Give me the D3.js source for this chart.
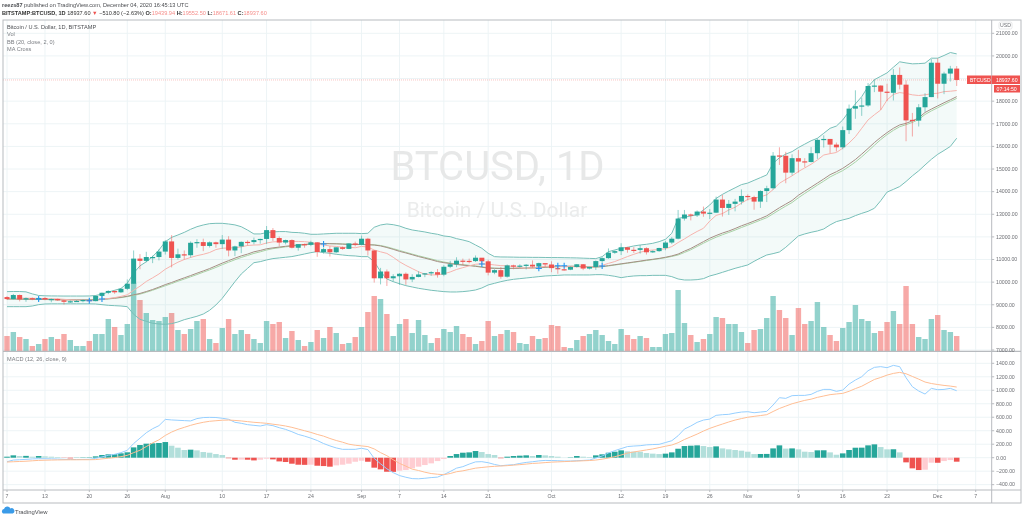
<!DOCTYPE html>
<html><head><meta charset="utf-8">
<script src="https://d3js.org/d3.v7.min.js"></script>
<style>html,body{margin:0;padding:0;background:#fff;overflow:hidden}svg{display:block;filter:blur(0.3px)}text{font-family:"Liberation Sans",Arial,sans-serif}</style>
</head><body><svg id="c" width="1024" height="520"></svg>
<script>
const openP=[9340,9250,9430,9235,9290,9240,9300,9240,9255,9195,
9130,9155,9170,9210,9160,9390,9530,9610,9550,9705,
9930,11040,10940,11110,11110,11350,11800,11070,11230,11190,
11740,11770,11600,11760,11680,11880,11400,11580,11780,11770,
11860,11910,12300,11950,11750,11860,11520,11680,11650,11760,
11330,11460,11320,11540,11470,11710,11650,11920,11400,10170,
10470,10170,10260,10370,10120,10230,10340,10390,10440,10330,
10680,10790,10950,10940,10930,11080,10920,10420,10530,10240,
10740,10690,10730,10770,10690,10840,10780,10620,10570,10550,
10670,10790,10600,10670,10930,11060,11300,11370,11540,11430,
11425,11500,11320,11370,11510,11750,11920,12810,12990,12950,
13120,13030,13070,13650,13280,13460,13560,13810,13760,13560,
14030,14150,15600,15585,14840,15480,15340,15310,15700,16290,
16330,16080,15960,16720,17670,17780,17810,18670,18690,18420,
18370,19160,18730,17175,17140,17730,18180,19700,18770,19220,
19439.94];
const closeP=[9250,9430,9235,9290,9240,9300,9240,9255,9195,9130,
9155,9170,9210,9160,9390,9530,9610,9550,9705,9930,
11040,10940,11110,11110,11350,11800,11070,11230,11190,11740,
11770,11600,11760,11680,11880,11400,11580,11780,11770,11860,
11910,12300,11950,11750,11860,11520,11680,11650,11760,11330,
11460,11320,11540,11470,11710,11650,11920,11400,10170,10470,
10170,10260,10370,10120,10230,10340,10390,10440,10330,10680,
10790,10950,10940,10930,11080,10920,10420,10530,10240,10740,
10690,10730,10770,10690,10840,10780,10620,10570,10550,10670,
10790,10600,10670,10930,11060,11300,11370,11540,11430,11425,
11500,11320,11370,11510,11750,11920,12810,12990,12950,13120,
13030,13070,13650,13280,13460,13560,13810,13760,13560,14030,
14150,15590,15585,14840,15480,15330,15310,15700,16290,16330,
16080,15960,16720,17670,17780,17810,18670,18690,18420,18370,
19160,18730,17150,17140,17730,18180,19700,18770,19220,19440,
18937.6];
const highP=[9380,9480,9450,9320,9320,9340,9340,9280,9275,9210,
9190,9210,9225,9215,9410,9540,9640,9630,9730,10120,
11400,11240,11340,11170,11450,11860,12080,11480,11400,11800,
11900,11920,11800,11790,12080,12030,11610,11800,11850,11970,
11920,12480,12390,12020,11880,11890,11680,11710,11830,11770,
11540,11590,11540,11580,11720,11790,12060,11960,11420,10630,
10560,10350,10400,10430,10350,10480,10400,10480,10580,10750,
10940,11100,11040,11040,11180,11050,10990,10570,10670,10780,
10770,10790,10800,10960,10860,10800,10920,10670,10600,10690,
10800,10800,10680,10960,11100,11490,11400,11720,11560,11550,
11640,11540,11410,11520,11820,11990,13190,13190,13030,13170,
13340,13230,13780,13860,13630,13680,14100,13880,13820,14060,
14260,15750,15960,15760,15650,15840,15480,15970,16350,16490,
16330,16170,16880,17850,18480,18150,18800,18960,18700,18770,
19420,19490,18920,17480,17870,18350,19860,19890,19300,19560,
19552.5];
const lowP=[9210,9230,9150,9130,9200,9160,9200,9110,9170,9010,
9080,9135,9110,9120,9150,9270,9470,9480,9520,9650,
9930,10570,10880,10840,10960,11220,10650,11000,11000,11090,
11520,11370,11530,11520,11470,11140,11150,11280,11620,11670,
11700,11690,11820,11580,11670,11490,11390,11520,11590,11120,
11260,11130,11280,11430,11460,11580,11630,11180,9980,9900,
9830,10030,9880,9880,10000,10210,10220,10280,10200,10260,
10620,10660,10750,10830,10890,10770,10300,10350,10150,10200,
10570,10640,10560,10640,10650,10670,10440,10370,10510,10530,
10640,10530,10560,10540,10830,11030,11250,11200,11300,11290,
11260,11220,11290,11340,11410,11680,11890,12720,12730,12880,
12890,12790,13060,12900,12970,13130,13430,13610,13200,13280,
13540,14090,15180,14370,14720,14840,15080,15290,15450,15950,
15700,15770,15870,16550,17220,17350,17750,18400,17620,18000,
18030,18520,16230,16440,16880,17530,18180,18120,18310,18870,
18671.61];
const volume=[15,19,14,12,5,7,12,14,12,17,
11,5,5,10,17,17,32,24,16,27,
68,51,38,31,30,34,38,21,17,22,
30,32,12,8,23,32,17,21,17,12,
8,30,27,29,13,20,11,5,9,21,
13,24,18,7,8,14,24,39,55,52,
37,15,27,32,18,31,16,8,13,22,
19,25,17,14,7,10,30,15,17,21,
19,8,7,15,12,13,26,25,4,3,
11,15,17,21,16,10,7,22,16,12,
15,13,4,4,17,18,61,28,16,9,
12,17,34,33,27,27,19,8,21,22,
33,55,41,33,16,43,27,30,49,24,
16,10,23,29,46,32,30,18,20,29,
40,27,65,27,14,12,32,36,21,19,
15];
const bbUpper=[9580,9585,9585,9570,9480,9410,9395,9390,9388,9385,
9385,9385,9385,9388,9410,9470,9560,9640,9720,9948,
10400,10720,10900,11130,11420,11790,11980,12085,12200,12336,
12450,12527,12585,12600,12600,12570,12530,12450,12300,12130,
12130,12190,12220,12235,12235,12200,12190,12160,12115,12115,
12130,12145,12160,12160,12160,12160,12145,12160,12425,12527,
12570,12540,12480,12380,12306,12262,12218,12160,12115,12040,
12010,11923,11864,11790,11643,11496,11275,11127,11112,11110,
11105,11100,11100,11095,11095,11090,11085,11085,11080,11075,
11070,11060,11050,11040,11127,11348,11422,11496,11540,11600,
11643,11673,11717,11790,11894,12160,12820,12870,12925,12985,
13190,13410,13700,13880,14030,14170,14310,14380,14500,14620,
14740,15250,15500,15660,15770,15950,16100,16250,16360,16580,
16800,16900,17170,17550,17880,18200,18640,18950,19100,19250,
19500,19740,19690,19650,19660,19680,19900,19900,20020,20150,
20090];
const bbLower=[8916,8916,8916,8916,8945,9005,9034,9040,9040,9040,
9040,9040,9040,9040,9034,9005,8975,8960,8945,8916,
8577,8356,8268,8180,8150,8135,8165,8238,8340,8415,
8490,8590,8755,8990,9285,9653,10020,10360,10610,10860,
10906,10980,11040,11070,11100,11130,11185,11245,11304,11350,
11304,11275,11230,11200,11170,11157,11127,11127,10906,10464,
10140,10020,9930,9845,9786,9727,9683,9640,9610,9580,
9565,9565,9580,9610,9653,9742,9875,9948,10020,10080,
10125,10154,10184,10213,10243,10272,10287,10300,10317,10317,
10317,10317,10317,10331,10331,10300,10258,10198,10243,10272,
10287,10287,10300,10300,10300,10243,10140,10095,10095,10110,
10154,10272,10346,10434,10523,10611,10685,10760,10920,11068,
11200,11260,11333,11540,11790,12041,12130,12203,12262,12350,
12530,12675,12750,12820,12940,13040,13130,13265,13600,13980,
14100,14225,14450,14700,14920,15180,15430,15650,15820,16000,
16360];
const bbBasis=[9260,9258,9255,9250,9245,9240,9235,9230,9225,9222,
9220,9218,9216,9215,9225,9240,9265,9295,9330,9375,
9440,9500,9585,9675,9780,9890,9985,10090,10190,10290,
10395,10495,10600,10720,10840,10950,11060,11160,11240,11340,
11400,11475,11515,11550,11585,11615,11645,11665,11695,11700,
11705,11700,11695,11680,11665,11660,11665,11650,11640,11600,
11530,11450,11360,11290,11210,11130,11060,10990,10910,10860,
10820,10780,10750,10730,10700,10660,10620,10610,10605,10610,
10612,10615,10620,10630,10645,10660,10680,10690,10700,10705,
10700,10680,10665,10670,10690,10730,10770,10810,10850,10890,
10930,10975,11010,11050,11100,11160,11240,11370,11490,11640,
11790,11940,12060,12170,12260,12370,12490,12590,12700,12810,
12930,13110,13290,13450,13610,13840,14020,14200,14380,14560,
14750,14880,15030,15220,15420,15660,15910,16170,16400,16610,
16800,16950,17020,17130,17260,17500,17650,17790,17930,18060,
18200];
const maSlow=[9250,9248,9245,9242,9238,9234,9230,9226,9222,9220,
9218,9216,9214,9213,9220,9230,9255,9285,9315,9360,
9415,9470,9550,9640,9740,9840,9935,10040,10135,10235,
10335,10440,10540,10650,10770,10880,10990,11090,11180,11270,
11340,11420,11480,11520,11560,11590,11625,11650,11680,11695,
11700,11700,11695,11690,11680,11670,11675,11660,11650,11620,
11560,11480,11400,11320,11240,11165,11095,11025,10950,10890,
10840,10800,10770,10745,10715,10680,10640,10620,10610,10605,
10608,10610,10615,10625,10635,10650,10670,10680,10690,10695,
10695,10685,10670,10668,10680,10715,10755,10795,10835,10875,
10915,10955,10995,11035,11080,11135,11200,11310,11430,11575,
11720,11860,11985,12095,12195,12300,12415,12520,12630,12740,
12850,13020,13195,13360,13520,13730,13920,14105,14290,14465,
14650,14790,14930,15110,15310,15540,15790,16050,16300,16520,
16710,16870,16960,17060,17190,17410,17570,17710,17850,17990,
18120];
const maFast=[9270,9285,9290,9290,9285,9280,9270,9265,9260,9240,
9215,9205,9200,9190,9205,9235,9275,9315,9370,9440,
9640,9820,10030,10190,10360,10570,10730,10880,11000,11090,
11170,11230,11310,11440,11500,11510,11520,11560,11620,11640,
11650,11730,11780,11790,11800,11800,11800,11790,11760,11680,
11640,11600,11580,11540,11540,11520,11580,11550,11420,11340,
11270,11100,10900,10740,10600,10460,10350,10320,10320,10370,
10450,10560,10640,10720,10790,10810,10790,10760,10730,10720,
10690,10640,10610,10620,10660,10700,10710,10710,10680,10680,
10680,10670,10650,10680,10740,10830,10910,11020,11130,11230,
11320,11390,11420,11440,11480,11570,11750,11910,12085,12240,
12380,12700,12950,13030,13190,13310,13490,13660,13720,13770,
13860,14090,14370,14540,14700,14890,15050,15210,15400,15620,
15680,15730,15920,16150,16430,16800,17170,17400,17610,18050,
18300,18380,18340,18280,18250,18280,18330,18350,18420,18440,
18470];
const macdHist=[15,35,25,27,15,25,20,15,10,-3,
-10,3,5,6,20,40,50,52,65,80,
153,188,208,213,218,232,178,148,114,119,
109,84,74,54,40,-8,-30,-28,-30,-40,
-30,-15,-25,-55,-64,-89,-104,-106,-104,-119,
-124,-133,-114,-104,-89,-60,-45,-60,-148,-173,
-208,-210,-193,-183,-158,-133,-109,-84,-50,-20,
25,54,74,79,99,84,54,40,-8,15,
25,30,35,25,40,35,25,15,2,5,
25,15,10,35,50,74,89,109,94,90,
89,69,60,54,60,79,133,173,178,183,
173,158,168,138,124,114,104,89,54,55,
56,138,183,135,138,124,89,84,109,110,
79,44,64,114,148,149,183,198,158,124,
125,79,-69,-158,-183,-178,-74,-75,-50,-35,
-59];
const macdLine=[-60,-35,-30,-25,-18,-15,-15,-17,-20,-24,
-27,-27,-26,-25,-10,12,35,50,75,110,
210,290,370,430,475,568,560,555,550,545,
580,595,598,596,585,570,525,510,490,480,
470,490,475,445,420,385,345,320,290,255,
210,175,145,124,124,124,140,120,-10,-90,
-165,-222,-265,-290,-310,-313,-305,-295,-288,-250,
-205,-155,-133,-95,-62,-59,-74,-100,-119,-110,
-104,-85,-70,-60,-48,-40,-42,-45,-49,-49,
-45,-40,-35,-5,25,70,105,135,165,173,
178,190,195,198,225,252,326,425,470,524,
558,573,628,638,643,662,677,682,667,677,
687,781,890,880,920,924,924,939,984,1013,
1013,984,1003,1092,1152,1201,1290,1340,1350,1335,
1369,1350,1186,1053,989,944,1028,1008,1013,1028,
993];
const macdSignal=[-64,-60,-56,-52,-46,-40,-37,-35,-33,-32,
-31,-31,-30,-30,-28,-18,-8,2,15,35,
75,110,165,220,265,330,380,420,450,480,
505,525,540,548,556,558,553,545,535,525,
518,510,497,485,470,450,425,400,375,345,
320,285,255,230,200,185,175,165,130,75,
30,-30,-85,-125,-170,-190,-215,-235,-245,-252,
-235,-208,-195,-175,-155,-145,-135,-128,-123,-118,
-110,-103,-95,-85,-80,-73,-66,-62,-58,-54,
-50,-46,-42,-35,-22,-5,15,40,68,85,
100,115,130,150,170,188,222,270,310,350,
395,435,468,499,530,558,580,600,613,625,
638,685,730,765,800,825,850,868,895,915,
935,945,954,985,1025,1060,1110,1160,1190,1225,
1250,1265,1245,1205,1165,1122,1100,1085,1072,1062,
1048];
const crossDays=[5,13,15,50,75,84,87,88,94];
const crossPrices=[9255,9180,9255,11686,10800,10610,10727,10727,10713];
const priceTicks=[7000,8000,9000,10000,11000,12000,13000,14000,15000,16000,17000,18000,19000,20000,21000];
const macdTicks=[-400,-200,0,200,400,600,800,1000,1200,1400];
const dateTickDays=[0,6,13,19,25,34,41,48,56,62,69,76,86,97,104,111,117,125,132,139,147,153];
const dateTickLabels=["7","13","20","26","Aug","10","17","24","Sep","7","14","21","Oct","12","19","26","Nov","9","16","23","Dec","7"];
const lastPrice=18937.6;

const svg=d3.select("#c");
const GREEN="#26a69a",RED="#ef5350",GRID="#edf4f6",AXIS="#b8bbbf",TXT="#6d6f74";
const x=d3.scaleLinear().domain([0,150]).range([7,956.7]);
const yP=d3.scaleLinear().domain([7000,21000]).range([350,33.3]);
const yV=d3.scaleLinear().domain([0,100]).range([351,251]);
const yM=d3.scaleLinear().domain([0,1400]).range([457.7,363.3]);
const days=d3.range(closeP.length);
const L=3,R=991.7,T=20,B=490,FR=1021,FB=503;

const grid=svg.append("g").attr("stroke",GRID).attr("stroke-width",1);
dateTickDays.forEach(d=>{grid.append("line").attr("x1",x(d)).attr("x2",x(d)).attr("y1",T).attr("y2",B);});
priceTicks.forEach(p=>{grid.append("line").attr("x1",L).attr("x2",R).attr("y1",yP(p)).attr("y2",yP(p));});
macdTicks.forEach(p=>{grid.append("line").attr("x1",L).attr("x2",R).attr("y1",yM(p)).attr("y2",yM(p));});

svg.append("text").attr("x",497.5).attr("y",180).attr("text-anchor","middle").attr("font-size",40).attr("fill","#e7e8e8").style("font-family","Roboto").text("BTCUSD, 1D");
svg.append("text").attr("x",497).attr("y",217).attr("text-anchor","middle").attr("font-size",21).attr("fill","#ebecec").style("font-family","Roboto").text("Bitcoin / U.S. Dollar");

svg.selectAll(".vol").data(days).enter().append("rect").attr("x",d=>x(d)-2.7).attr("width",5.4)
 .attr("y",d=>yV(volume[d])).attr("height",d=>yV(0)-yV(volume[d]))
 .attr("fill",d=>closeP[d]<openP[d]?RED:GREEN).attr("fill-opacity",0.5);

const band=d3.area().x(d=>x(d)).y0(d=>yP(bbLower[d])).y1(d=>yP(bbUpper[d]));
svg.append("path").attr("d",band(days)).attr("fill",GREEN).attr("fill-opacity",0.055);
const lineOf=(arr,sc)=>d3.line().x(d=>x(d)).y(d=>sc(arr[d]))(days);
const draw=(arr,sc,col,w)=>svg.append("path").attr("d",lineOf(arr,sc)).attr("fill","none").attr("stroke",col).attr("stroke-width",w||1);
draw(bbUpper,yP,"#78bfb8");draw(bbLower,yP,"#78bfb8");
draw(maSlow,yP,"#a9d2a6");draw(bbBasis,yP,"#a58f84");draw(maFast,yP,"#f6b3ad");

svg.append("line").attr("x1",L).attr("x2",R).attr("y1",yP(lastPrice)).attr("y2",yP(lastPrice)).attr("stroke",RED).attr("stroke-opacity",.35).attr("stroke-dasharray","1 1");

const c=svg.append("g");
c.selectAll("line").data(days).enter().append("line").attr("x1",d=>x(d)).attr("x2",d=>x(d))
 .attr("y1",d=>yP(highP[d])).attr("y2",d=>yP(lowP[d])).attr("stroke",d=>closeP[d]<openP[d]?RED:GREEN).attr("stroke-opacity",.5);
c.selectAll("rect").data(days).enter().append("rect").attr("x",d=>x(d)-2.5).attr("width",5)
 .attr("y",d=>yP(Math.max(openP[d],closeP[d])))
 .attr("height",d=>Math.max(1.2,Math.abs(yP(openP[d])-yP(closeP[d]))))
 .attr("fill",d=>closeP[d]<openP[d]?RED:GREEN);
crossDays.forEach((d,i)=>{const px=x(d),py=yP(crossPrices[i]);
 svg.append("path").attr("d",`M${px-3},${py}H${px+3}M${px},${py-3}V${py+3}`).attr("stroke","#2196f3").attr("stroke-width",1.1).attr("fill","none");});

svg.selectAll(".h").data(days).enter().append("rect").attr("x",d=>x(d)-2.8).attr("width",5.6)
 .attr("y",d=>Math.min(yM(0),yM(macdHist[d]))).attr("height",d=>Math.abs(yM(0)-yM(macdHist[d])))
 .attr("fill",d=>{const v=macdHist[d],p=d?macdHist[d-1]:0;return v>=0?(v>p?GREEN:"#b2dfdb"):(v<p?RED:"#ffcdd2");});
draw(macdLine,yM,"#96cfff");draw(macdSignal,yM,"#ffbe94");

const fr=svg.append("g").attr("stroke",AXIS).attr("fill","none");
fr.append("rect").attr("x",L).attr("y",T).attr("width",FR-L).attr("height",FB-T).attr("stroke-width",1);
fr.append("line").attr("x1",R).attr("x2",R).attr("y1",T).attr("y2",FB);
fr.append("line").attr("x1",L).attr("x2",FR).attr("y1",351.3).attr("y2",351.3).attr("stroke-width",1.2);
fr.append("line").attr("x1",L).attr("x2",FR).attr("y1",B).attr("y2",B);
const ticks=svg.append("g").attr("stroke",AXIS);
priceTicks.forEach(p=>ticks.append("line").attr("x1",R).attr("x2",R+2.5).attr("y1",yP(p)).attr("y2",yP(p)));
macdTicks.forEach(p=>ticks.append("line").attr("x1",R).attr("x2",R+2.5).attr("y1",yM(p)).attr("y2",yM(p)));
dateTickDays.forEach(d=>ticks.append("line").attr("x1",x(d)).attr("x2",x(d)).attr("y1",B).attr("y2",B+2));

const axisTxt=(s,px,py,anc)=>svg.append("text").attr("x",px).attr("y",py).attr("text-anchor",anc||"start").attr("font-size",5.2).attr("fill",TXT).text(s);
priceTicks.forEach(p=>axisTxt(d3.format(".2f")(p),996,yP(p)+1.8));
macdTicks.forEach(p=>axisTxt(d3.format(".2f")(p).replace("-","\u2212"),996,yM(p)+1.8));
svg.append("rect").attr("x",999).attr("y",22).attr("width",13).attr("height",7).attr("rx",1.5).attr("fill","#fff").attr("stroke","#dcdee0").attr("stroke-width",.7);
axisTxt("USD",1005.5,27.3,"middle");
dateTickDays.forEach((d,i)=>axisTxt(dateTickLabels[i],x(d),498,"middle"));

svg.append("rect").attr("x",967).attr("y",75.5).attr("width",24.5).attr("height",8.5).attr("fill",RED);
svg.append("text").attr("x",970).attr("y",81.6).attr("font-size",5).attr("fill","#fff").text("BTCUSD");
svg.append("rect").attr("x",992).attr("y",75.5).attr("width",28).attr("height",8.5).attr("fill",RED);
svg.append("text").attr("x",996).attr("y",81.6).attr("font-size",5.2).attr("fill","#fff").text("18937.60");
svg.append("rect").attr("x",994).attr("y",85).attr("width",26).attr("height",7.5).attr("fill",RED);
svg.append("text").attr("x",996.5).attr("y",90.6).attr("font-size",5.2).attr("fill","#fff").text("07:14:50");

const leg=(s,px,py)=>svg.append("text").attr("x",px).attr("y",py).attr("font-size",5.6).attr("fill","#7b7e83").text(s);
svg.append("text").attr("x",7).attr("y",28.7).attr("font-size",5.6).attr("fill","#4d4f53").text("Bitcoin / U.S. Dollar, 1D, BITSTAMP");
leg("Vol",7,36);leg("BB (20, close, 2, 0)",7,43.7);leg("MA Cross",7,51);
leg("MACD (12, 26, close, 9)",7,361);

const t1=svg.append("text").attr("x",2).attr("y",7.3).attr("font-size",5.6).attr("fill","#4a4c50");
t1.append("tspan").attr("font-weight","bold").text("reezs87");t1.append("tspan").text(" published on TradingView.com, December 04, 2020 16:45:13 UTC");
const t2=svg.append("text").attr("x",2).attr("y",15).attr("font-size",5.6).attr("fill","#333");
t2.append("tspan").attr("font-weight","bold").text("BITSTAMP:BTCUSD, 1D");
t2.append("tspan").text(" 18937.60 ");
t2.append("tspan").attr("fill",RED).text("\u25BC");
t2.append("tspan").text(" \u2212510.80 (\u22122.63%) ");
[["O:","19439.94"],["H:","19552.50"],["L:","18671.61"],["C:","18937.60"]].forEach(([a,b])=>{
 t2.append("tspan").attr("font-weight","bold").text(a);t2.append("tspan").attr("fill","#f58f8b").text(b+" ");});

svg.append("path").attr("d","M3,513.5 a2.4,2.4 0 0 1 1,-4.4 a3.4,3.4 0 0 1 6.4,-0.6 a2.6,2.6 0 0 1 2.4,5 Z").attr("fill","#3a9be8");
svg.append("text").attr("x",15).attr("y",513.5).attr("font-size",5.9).attr("fill","#4a4c50").text("TradingView");
</script></body></html>
